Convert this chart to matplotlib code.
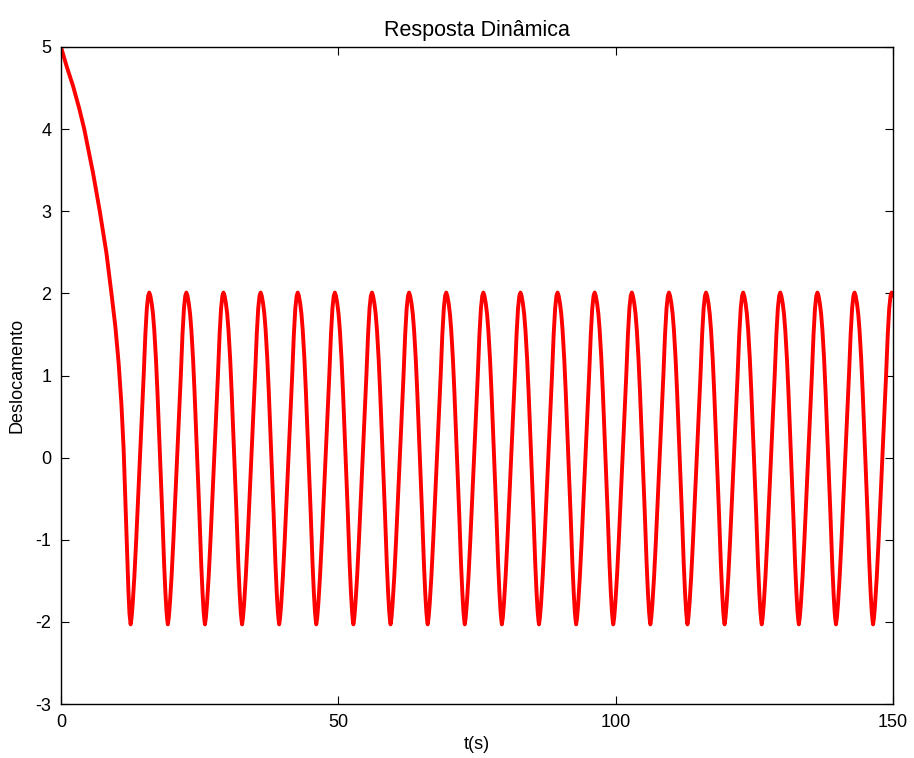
import numpy as np
import matplotlib
matplotlib.use('Agg')
import matplotlib.pyplot as plt

plt.rcParams['font.family'] = ['Liberation Sans', 'DejaVu Sans']
plt.rcParams['axes.unicode_minus'] = False

# initial decay (t, y)
decay_t = [0.0, 1.0, 2.2, 3.3, 4.2, 5.8, 7.0, 8.2, 9.1, 9.8, 10.4, 10.9, 11.3, 11.6, 11.9, 12.15, 12.35]
decay_y = [5.0, 4.77, 4.52, 4.25, 4.0, 3.46, 3.0, 2.49, 2.0, 1.6, 1.15, 0.65, 0.1, -0.5, -1.1, -1.6, -1.9]

# times of troughs and peaks (s)
trough_t = [12.56, 19.27, 25.96, 32.65, 39.34, 46.03, 52.72, 59.42, 66.11, 72.80, 79.49,
            86.18, 92.88, 99.57, 106.26, 112.95, 119.64, 126.34, 133.03, 139.72, 146.41]
peak_t = [15.92, 22.61, 29.30, 36.00, 42.69, 49.38, 56.07, 62.76, 69.46, 76.15, 82.84,
          89.53, 96.22, 102.92, 109.61, 116.30, 122.99, 129.68, 136.38, 143.07, 149.76]
peak_y = 2.01
trough_y = -2.03
end_t, end_y = 150.0, 1.98

# shape of one half swing (fraction of half period, value)
rise_f = [0.05, 0.11, 0.20, 0.30, 0.40, 0.50, 0.60, 0.70, 0.79, 0.87, 0.94]
rise_y = [-1.95, -1.78, -1.45, -1.0, -0.5, 0.0, 0.5, 1.0, 1.5, 1.82, 1.97]
fall_f = [0.06, 0.13, 0.20, 0.27, 0.36, 0.44, 0.52, 0.60, 0.70, 0.80, 0.87, 0.93, 0.97]
fall_y = [1.97, 1.88, 1.75, 1.55, 1.2, 0.8, 0.35, -0.1, -0.68, -1.3, -1.65, -1.88, -1.98]

t = list(decay_t)
y = list(decay_y)
for i in range(len(peak_t)):
    t0, t1 = trough_t[i], peak_t[i]
    t.append(t0); y.append(trough_y)
    for f, v in zip(rise_f, rise_y):
        t.append(t0 + f*(t1 - t0)); y.append(v)
    t.append(t1); y.append(peak_y)
    if i + 1 < len(trough_t):
        t2 = trough_t[i+1]
        for f, v in zip(fall_f, fall_y):
            t.append(t1 + f*(t2 - t1)); y.append(v)
t.append(end_t); y.append(end_y)

fig = plt.figure(figsize=(9.14, 7.58), dpi=100)
ax = fig.add_axes([0.0667, 0.0712, 0.9103, 0.8668])
ax.plot(t, y, color='#ff0000', linewidth=2.8, solid_joinstyle='round')
ax.set_xlim(0, 150)
ax.set_ylim(-3, 5)
ax.set_xticks([0, 50, 100, 150])
ax.set_yticks(range(-3, 6))
ax.tick_params(direction='in', length=6, width=0.8, top=True, right=True,
               labelsize=13, pad=7)
for s in ax.spines.values():
    s.set_linewidth(1.0)
ax.set_title('Resposta Dinâmica', fontsize=15.5, pad=8)
ax.set_xlabel('t(s)', fontsize=13, labelpad=4)
ax.set_ylabel('Deslocamento', fontsize=13, labelpad=7)

fig.savefig('out.png', dpi=100)
